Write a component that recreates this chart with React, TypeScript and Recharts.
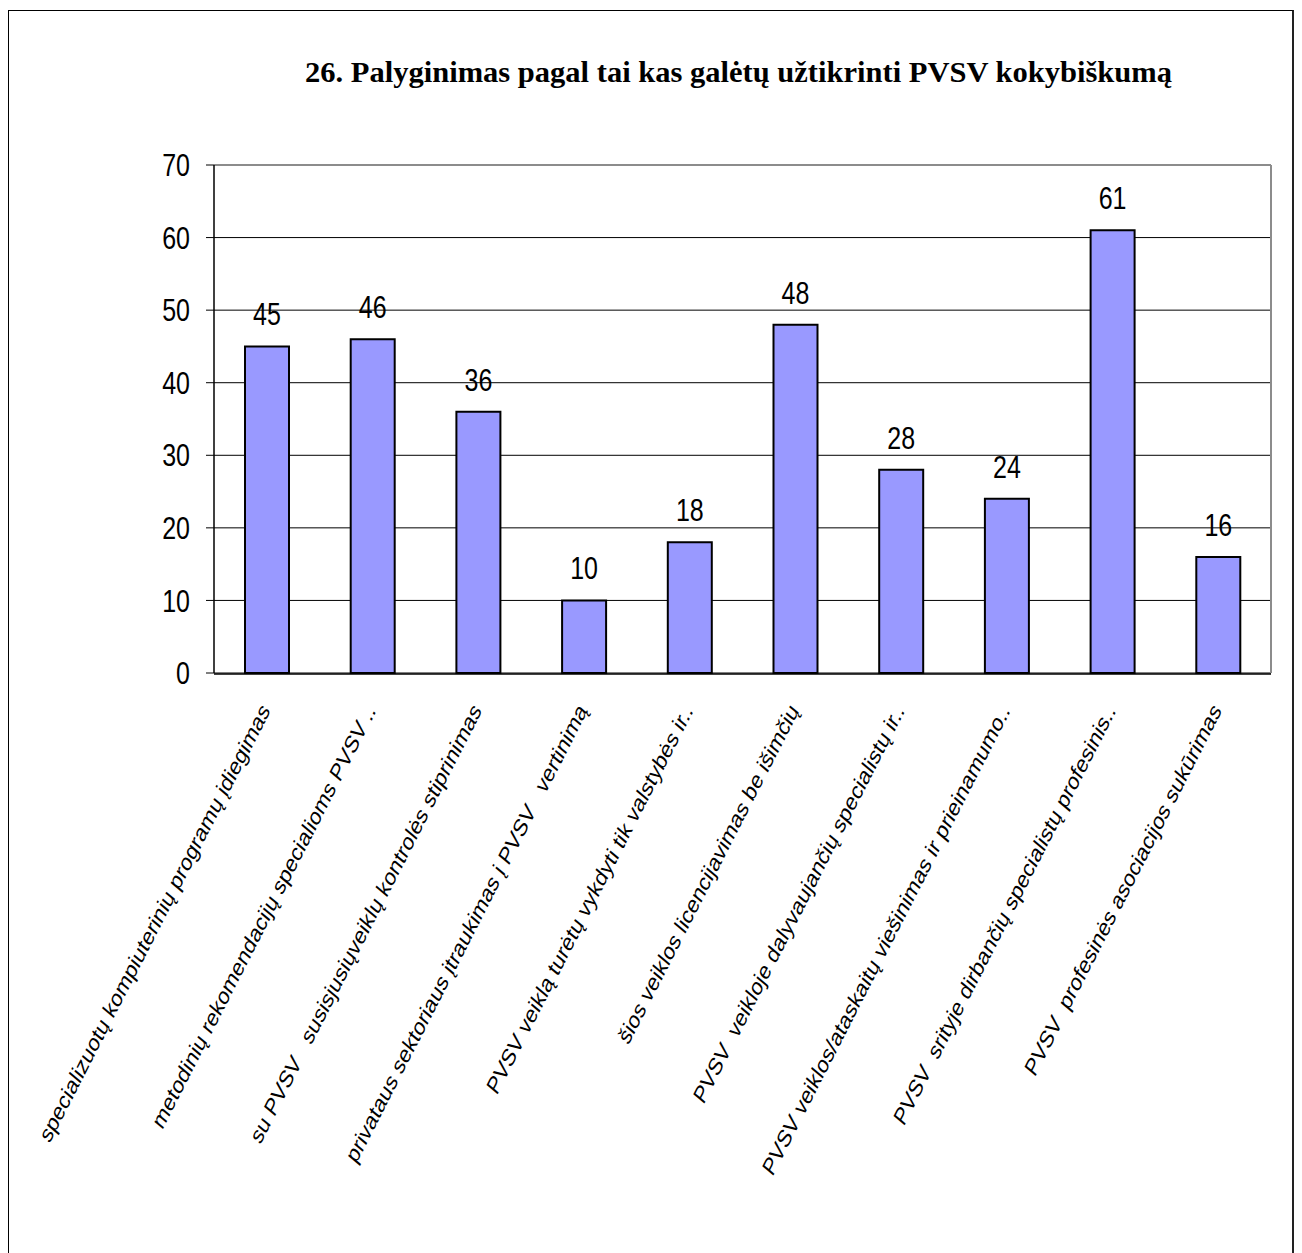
import { BarChart, Bar, XAxis, YAxis, CartesianGrid, LabelList } from "recharts"

const categories = [
  "specializuotų kompiuterinių programų įdiegimas",
  "metodinių rekomendacijų specialioms PVSV ..",
  "su PVSV   susisjusiųveiklų kontrolės stiprinimas",
  "privataus sektoriaus įtraukimas į PVSV   vertinimą",
  "PVSV veiklą turėtų vykdyti tik valstybės ir..",
  "šios veiklos licencijavimas be išimčių",
  "PVSV  veikloje dalyvaujančių specialistų ir..",
  "PVSV veiklos/ataskaitų viešinimas ir prieinamumo..",
  "PVSV  srityje dirbančių specialistų profesinis..",
  "PVSV  profesinės asociacijos sukūrimas",
]

const values = [45, 46, 36, 10, 18, 48, 28, 24, 61, 16]

const yTicks = [0, 10, 20, 30, 40, 50, 60, 70]
const edgeTicks = [0, 1, 2, 3, 4, 5, 6, 7, 8, 9, 10]

const title = "26. Palyginimas pagal tai kas galėtų užtikrinti PVSV kokybiškumą"

const data = categories.map((name, i) => ({ name, value: values[i] }))

const FONT = "'Liberation Sans', Arial, sans-serif"
// originalas ištemptas vertikaliai
const STRETCH = 1.28
const WIDTH = 1286
const PLOT_TOP = 157
const RIGHT = 23
const FRAME = "#8c8c8c"

// pasukti kategorijų pavadinimai
const CategoryTick = ({ x, y, payload }: any) => (
  <text
    transform={`translate(${x + 4}, ${y + 30}) scale(1, ${STRETCH}) rotate(-56.8)`}
    textAnchor="end"
    fontFamily={FONT}
    fontSize={19.2}
    fill="#000"
    style={{ whiteSpace: "pre" }}
  >
    {payload.value}
  </text>
)

const ValueTick = ({ x, y, payload }: any) => (
  <text
    transform={`translate(${x}, ${y}) scale(1, ${STRETCH})`}
    textAnchor="end"
    dominantBaseline="central"
    fontFamily={FONT}
    fontSize={25}
    fill="#000"
  >
    {payload.value}
  </text>
)

const BarValue = ({ x, y, width, value }: any) => (
  <text
    transform={`translate(${x + width / 2}, ${y - 21}) scale(1, ${STRETCH})`}
    textAnchor="middle"
    fontFamily={FONT}
    fontSize={25}
    fill="#000"
  >
    {value}
  </text>
)

// viršutinė linija pilka (rėmas), kitos juodos
const HLine = (p: any) => {
  const top = p.y1 < PLOT_TOP + 2
  return (
    <line
      key={p.key}
      x1={p.x1}
      y1={p.y1}
      x2={p.x2}
      y2={p.y2}
      stroke={top ? FRAME : "#000"}
      strokeWidth={top ? 2 : 1}
    />
  )
}

// tik dešinysis rėmo kraštas
const VLine = (p: any) => {
  if (p.x1 < WIDTH - RIGHT - 2) return <g key={p.key} />
  return <line key={p.key} x1={p.x1} y1={p.y1} x2={p.x2} y2={p.y2} stroke={FRAME} strokeWidth={2} />
}

export default function App() {
  return (
    <div style={{ position: "relative", width: WIDTH, height: 1245 }}>
      <div
        style={{
          position: "absolute",
          left: 0,
          top: 2,
          width: WIDTH,
          height: 1260,
          borderTop: "1px solid #000",
          borderLeft: "1px solid #000",
          borderRight: "2px solid #222",
          boxSizing: "border-box",
        }}
      />
      <svg
        width={WIDTH}
        height={120}
        style={{ position: "absolute", left: 0, top: 0 }}
      >
        <text
          x={730.5}
          y={74}
          textAnchor="middle"
          fontFamily="'Liberation Serif', 'Times New Roman', serif"
          fontWeight="bold"
          fontSize={29}
          textLength={867}
          lengthAdjust="spacingAndGlyphs"
          fill="#000"
        >
          {title}
        </text>
      </svg>
      <div style={{ position: "absolute", left: 0, top: 0 }}>
        <BarChart
          width={WIDTH}
          height={1245}
          data={data}
          margin={{ top: PLOT_TOP, right: RIGHT, left: 0, bottom: 571 }}
        >
          <CartesianGrid
            xAxisId="edges"
            horizontal={HLine}
            vertical={VLine}
          />
          <XAxis
            xAxisId="edges"
            type="number"
            domain={[0, 10]}
            ticks={edgeTicks}
            height={8}
            tick={false}
            tickSize={7}
            axisLine={{ stroke: "#000", strokeWidth: 1.5 }}
            tickLine={{ stroke: "#000" }}
          />
          <XAxis
            dataKey="name"
            height={1}
            interval={0}
            axisLine={false}
            tickLine={false}
            tick={<CategoryTick />}
          />
          <YAxis
            domain={[0, 70]}
            ticks={yTicks}
            width={206}
            tickSize={8}
            tickMargin={16}
            interval={0}
            axisLine={{ stroke: "#000", strokeWidth: 1.5 }}
            tickLine={{ stroke: "#000" }}
            tick={<ValueTick />}
          />
          <Bar
            dataKey="value"
            fill="#9999FF"
            stroke="#000"
            strokeWidth={2}
            barSize={44}
            isAnimationActive={false}
          >
            <LabelList dataKey="value" content={<BarValue />} />
          </Bar>
        </BarChart>
      </div>
    </div>
  )
}
